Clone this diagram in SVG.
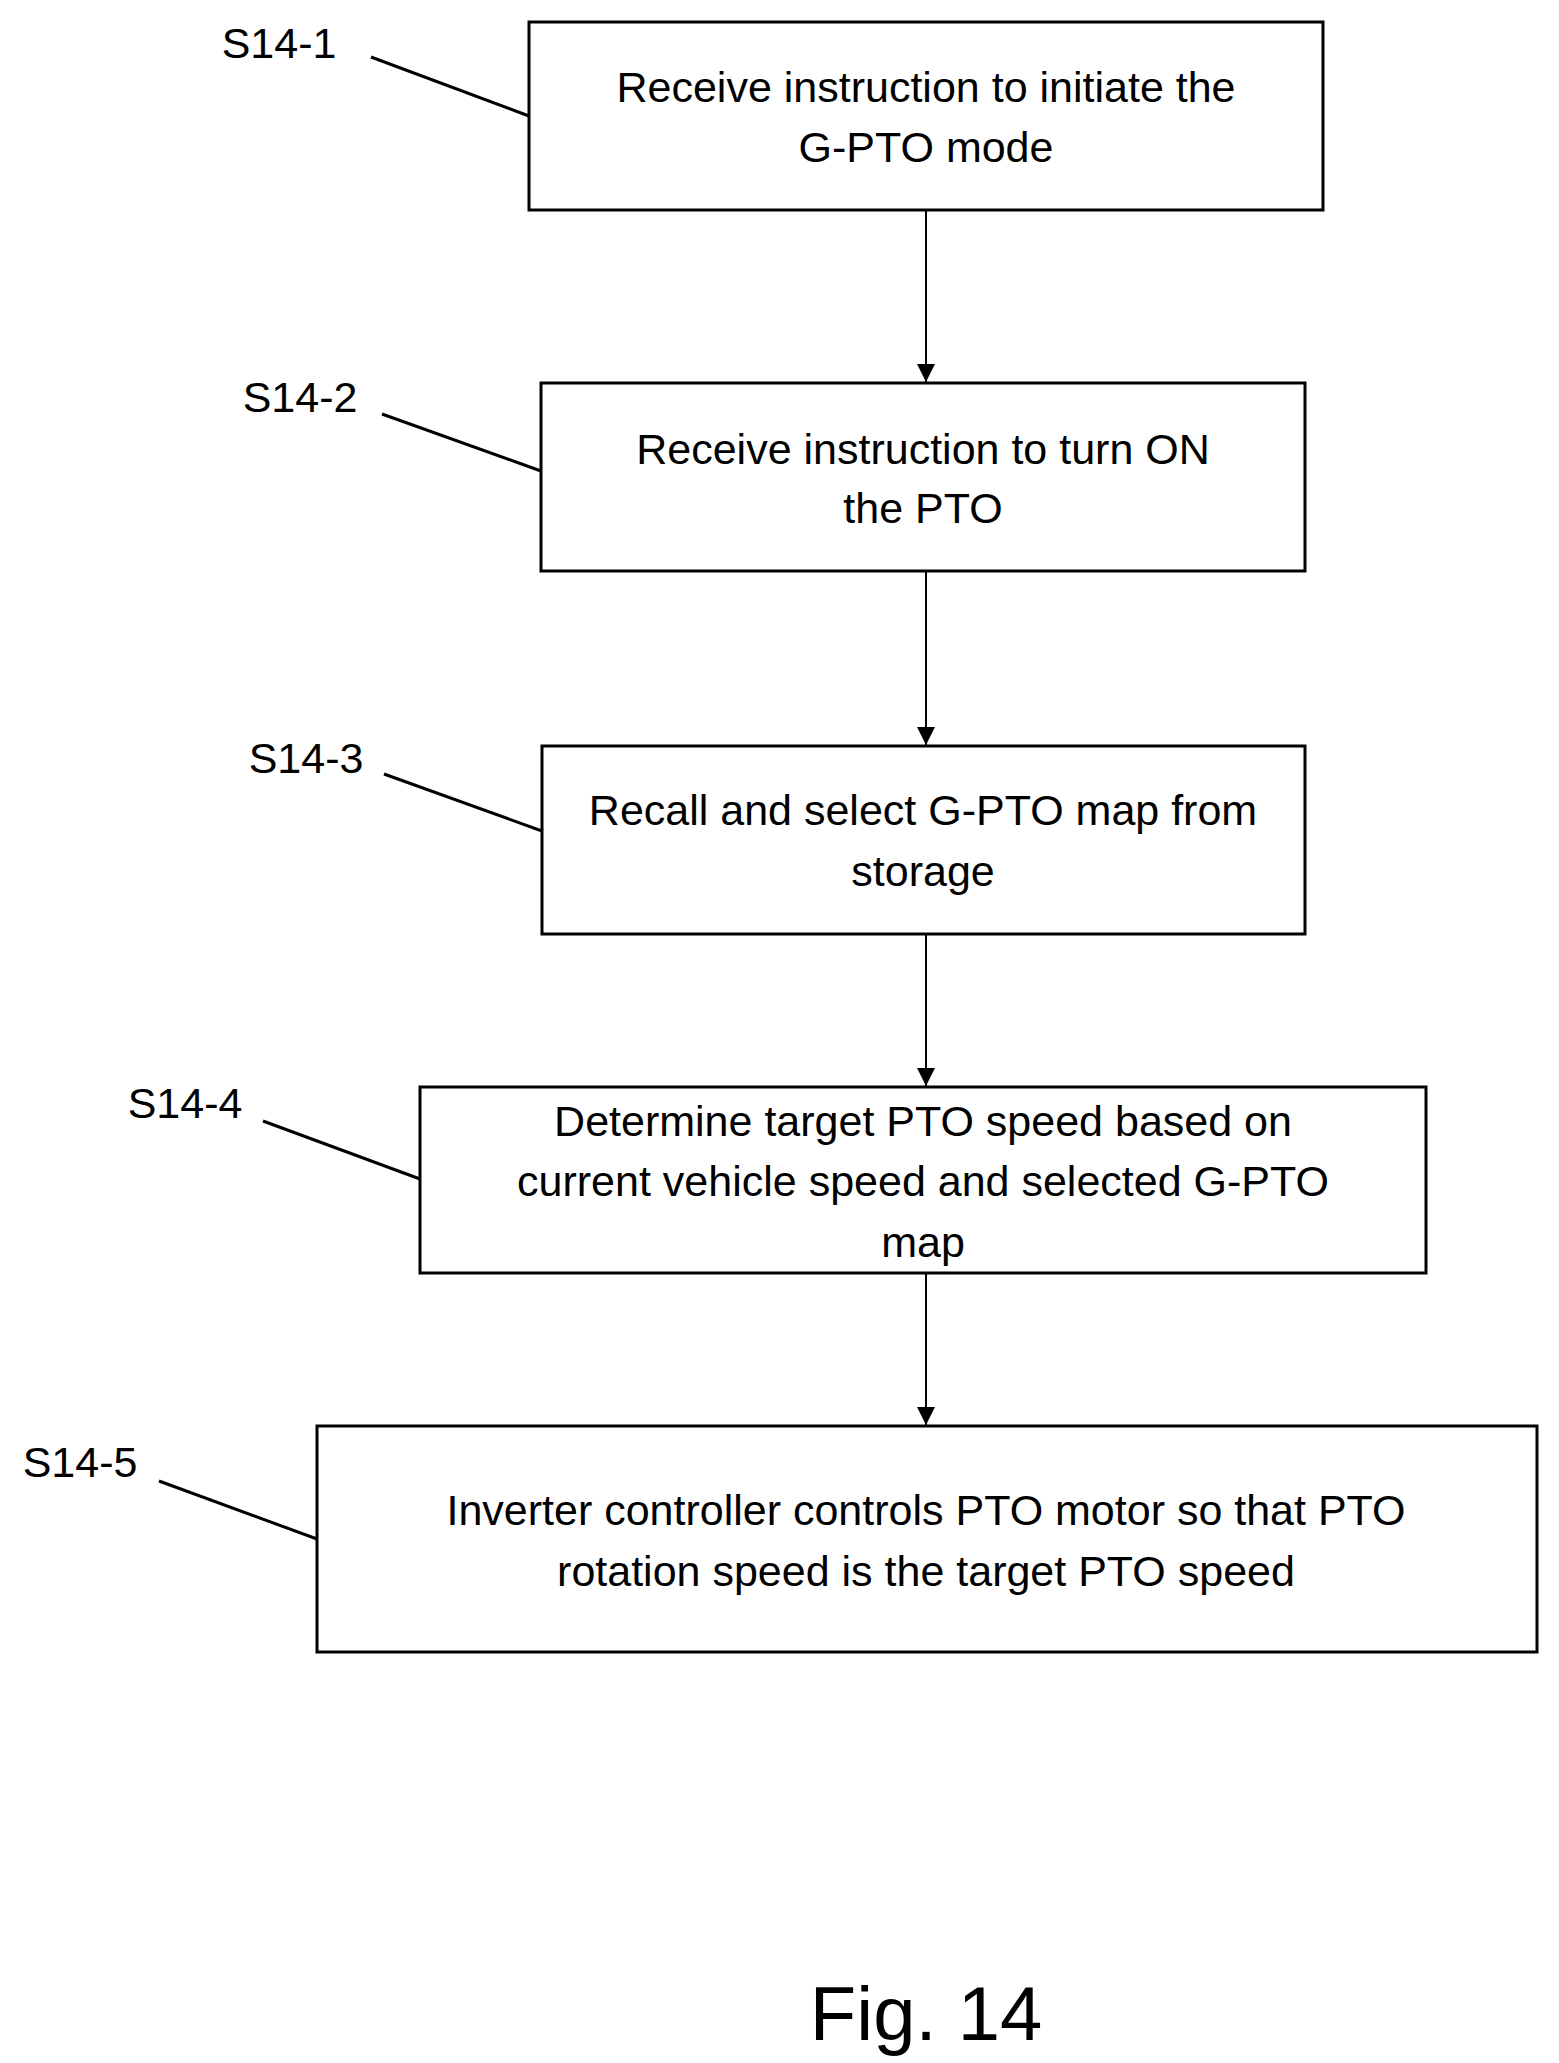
<svg xmlns="http://www.w3.org/2000/svg" width="1559" height="2063" viewBox="0 0 1559 2063">
<style>
.b{fill:#fff;stroke:#000;stroke-width:3}
.t{font-family:"Liberation Sans",Arial,sans-serif;font-size:43px;text-anchor:middle;dominant-baseline:central;fill:#000}
.l{font-family:"Liberation Sans",Arial,sans-serif;font-size:43px;text-anchor:middle;fill:#000}
.c{stroke:#000;stroke-width:2;fill:none}
.p{stroke:#000;stroke-width:3;fill:none}
</style>
<defs><marker id="a" markerWidth="18" markerHeight="22" refX="10" refY="5" orient="auto" markerUnits="userSpaceOnUse" viewBox="0 0 10 10"><path d="M0,0L10,5L0,10z" fill="#000"/></marker></defs>
<rect width="1559" height="2063" fill="#fff"/>
<g id="n1"><rect class="b" x="529" y="22" width="794" height="188"/><text class="t" x="926" y="87">Receive instruction to initiate the</text><text class="t" x="926" y="147">G-PTO mode</text></g>
<g id="n2"><rect class="b" x="541" y="383" width="764" height="188"/><text class="t" x="923" y="449">Receive instruction to turn ON</text><text class="t" x="923" y="508">the PTO</text></g>
<g id="n3"><rect class="b" x="542" y="746" width="763" height="188"/><text class="t" x="923" y="810">Recall and select G-PTO map from</text><text class="t" x="923" y="871">storage</text></g>
<g id="n4"><rect class="b" x="420" y="1087" width="1006" height="186"/><text class="t" x="923" y="1121">Determine target PTO speed based on</text><text class="t" x="923" y="1181">current vehicle speed and selected G-PTO</text><text class="t" x="923" y="1242">map</text></g>
<g id="n5"><rect class="b" x="317" y="1426" width="1220" height="226"/><text class="t" x="926" y="1510">Inverter controller controls PTO motor so that PTO</text><text class="t" x="926" y="1571">rotation speed is the target PTO speed</text></g>
<g id="labels">
<text class="l" x="279" y="58">S14-1</text>
<text class="l" x="300" y="412">S14-2</text>
<text class="l" x="306" y="773">S14-3</text>
<text class="l" x="185" y="1118">S14-4</text>
<text class="l" x="80" y="1477">S14-5</text>
<text class="l" x="926" y="2040" style="font-size:76px">Fig. 14</text>
</g>
<g id="connectors">
<line class="p" x1="371" y1="57" x2="529" y2="116"/>
<line class="p" x1="382" y1="414" x2="541" y2="471"/>
<line class="p" x1="384" y1="774" x2="542" y2="831"/>
<line class="p" x1="263" y1="1121" x2="420" y2="1179"/>
<line class="p" x1="159" y1="1481" x2="317" y2="1539"/>
<line class="c" x1="926" y1="211" x2="926" y2="382" marker-end="url(#a)"/>
<line class="c" x1="926" y1="572" x2="926" y2="745" marker-end="url(#a)"/>
<line class="c" x1="926" y1="935" x2="926" y2="1086" marker-end="url(#a)"/>
<line class="c" x1="926" y1="1274" x2="926" y2="1425" marker-end="url(#a)"/>
</g>
</svg>
